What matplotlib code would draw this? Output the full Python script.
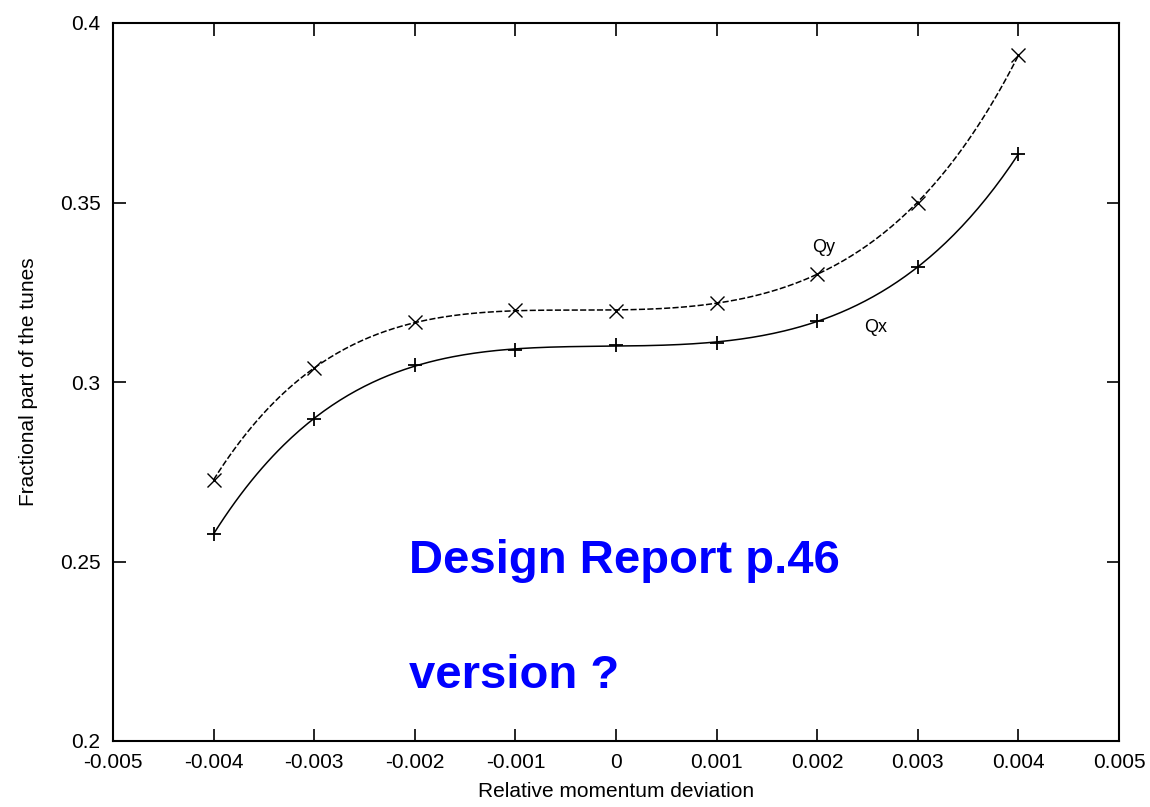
import numpy as np
import matplotlib
matplotlib.use("Agg")
import matplotlib.pyplot as plt

plt.rcParams['font.family'] = ['Liberation Sans', 'DejaVu Sans']

# momentum deviation and measured tunes
dp = [-0.004, -0.003, -0.002, -0.001, 0.0, 0.001, 0.002, 0.003, 0.004]
qy = [0.2728, 0.3038, 0.3166, 0.3200, 0.3198, 0.3220, 0.3302, 0.3500, 0.3910]
qx = [0.2577, 0.2898, 0.3046, 0.3090, 0.3102, 0.3110, 0.3170, 0.3320, 0.3635]

xticks = [-0.005, -0.004, -0.003, -0.002, -0.001, 0, 0.001, 0.002, 0.003, 0.004, 0.005]
xticklabels = ['-0.005', '-0.004', '-0.003', '-0.002', '-0.001', '0',
               '0.001', '0.002', '0.003', '0.004', '0.005']
yticks = [0.2, 0.25, 0.3, 0.35, 0.4]
yticklabels = ['0.2', '0.25', '0.3', '0.35', '0.4']

fig = plt.figure(figsize=(11.5, 8.07), dpi=100)
ax = fig.add_axes([113 / 1150, 1 - 741 / 807, (1119 - 113) / 1150, (741 - 23) / 807])

# smooth fitted curves through the measurements
xs = np.linspace(dp[0], dp[-1], 300)
fy = np.poly1d(np.polyfit(dp, qy, 5))
fx = np.poly1d(np.polyfit(dp, qx, 5))
ax.plot(xs, fy(xs), color='black', lw=1.1, ls=(0, (4, 1.5)))
ax.plot(xs, fx(xs), color='black', lw=1.1)
ax.plot(dp, qy, 'x', color='black', ms=10, mew=1.0)
ax.plot(dp, qx, '+', color='black', ms=10, mew=1.3)

ax.text(0.00195, 0.3375, 'Qy', fontsize=13, ha='left', va='center')
ax.text(0.00247, 0.3152, 'Qx', fontsize=13, ha='left', va='center')

ax.text(-0.00206, 0.2467, 'Design Report p.46', color='#0000ff', fontsize=34,
        fontweight='bold', ha='left', va='baseline')
ax.text(-0.00206, 0.2147, 'version ?', color='#0000ff', fontsize=34,
        fontweight='bold', ha='left', va='baseline')

ax.set_xlim(-0.005, 0.005)
ax.set_ylim(0.2, 0.4)
ax.set_xticks(xticks)
ax.set_xticklabels(xticklabels)
ax.set_yticks(yticks)
ax.set_yticklabels(yticklabels)
ax.tick_params(direction='in', length=9, width=1.2, top=True, right=True,
               labelsize=15, pad=9, colors='black')
for s in ax.spines.values():
    s.set_linewidth(1.5)

ax.set_xlabel('Relative momentum deviation', fontsize=15, labelpad=7)
ax.set_ylabel('Fractional part of the tunes', fontsize=15, labelpad=16)

fig.savefig('out.png', dpi=100)
